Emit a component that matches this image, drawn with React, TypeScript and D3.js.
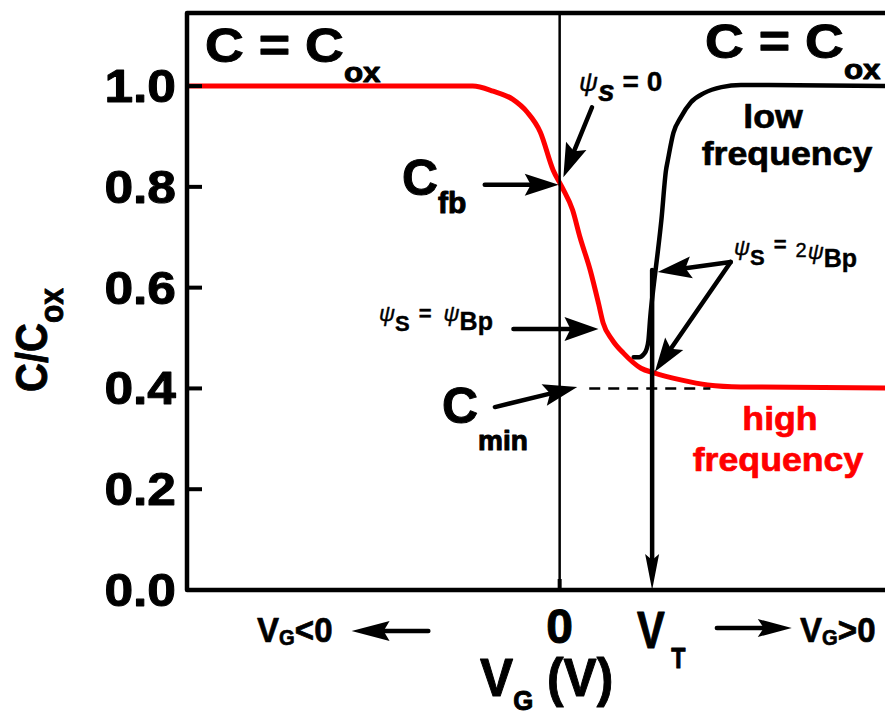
import React from "react";
import * as d3 from "d3";

// high frequency C-V curve (red)
const hfVoltage = [-4.03, -0.94, -0.72, -0.51, -0.35, -0.21, -0.07, 0.03, 0.14, 0.22, 0.33, 0.42, 0.47, 0.57, 0.69, 0.88, 1.02, 1.31, 1.6, 1.96, 3.54];
const hfCap = [1.0, 1.0, 0.99, 0.974, 0.948, 0.909, 0.833, 0.798, 0.754, 0.7, 0.635, 0.569, 0.53, 0.496, 0.47, 0.44, 0.431, 0.417, 0.407, 0.403, 0.401];

// low frequency C-V curve (black)
const lfVoltage = [0.8, 0.86, 0.91, 0.94, 0.96, 0.98, 1.02, 1.06, 1.1, 1.15, 1.17, 1.23, 1.31, 1.42, 1.56, 1.75, 1.96, 2.26, 3.54];
const lfCap = [0.462, 0.462, 0.468, 0.478, 0.495, 0.542, 0.609, 0.669, 0.734, 0.833, 0.853, 0.907, 0.938, 0.968, 0.986, 0.998, 1.002, 1.002, 1.0];

const yTicks = [0, 0.2, 0.4, 0.6, 0.8, 1.0];
const yTickLabels = ["0.0", "0.2", "0.4", "0.6", "0.8", "1.0"];

const VT = 1.0;
const CMIN = 0.4;

const W = 885;
const H = 715;
const FONT = "'Liberation Sans', Arial, sans-serif";

const x = d3.scaleLinear().domain([-4.03, 3.54]).range([187, 887]);
const y = d3.scaleLinear().domain([0, 1.145]).range([590, 13]);

const line = d3
  .line<[number, number]>()
  .x((d) => x(d[0]))
  .y((d) => y(d[1]))
  .curve(d3.curveMonotoneX);

const hfData = hfVoltage.map((v, i) => [v, hfCap[i]] as [number, number]);
const lfData = lfVoltage.map((v, i) => [v, lfCap[i]] as [number, number]);

// filled arrow head with a small notch, Origin style
function Arrow({ x1, y1, x2, y2, len = 34, half = 11, width = 4.5 }: any) {
  const dx = x2 - x1;
  const dy = y2 - y1;
  const d = Math.hypot(dx, dy);
  const ux = dx / d;
  const uy = dy / d;
  const px = -uy;
  const py = ux;
  const bx = x2 - ux * len;
  const by = y2 - uy * len;
  const nx = x2 - ux * (len - 6);
  const ny = y2 - uy * (len - 6);
  const head = `M${x2},${y2}L${bx + px * half},${by + py * half}L${nx},${ny}L${bx - px * half},${by - py * half}Z`;
  return (
    <g>
      <line x1={x1} y1={y1} x2={nx} y2={ny} stroke="#000" strokeWidth={width} strokeLinecap="round" />
      <path d={head} fill="#000" />
    </g>
  );
}

function Label({ x: tx, y: ty, size, sx = 1.1, anchor = "start", fill = "#000", rotate, heavy = 0.7, children }: any) {
  const tf = `translate(${tx},${ty}) scale(${sx},1)` + (rotate ? ` rotate(${rotate})` : "");
  return (
    <text
      transform={tf}
      fontSize={size}
      fontWeight="bold"
      fontFamily={FONT}
      textAnchor={anchor}
      fill={fill}
      stroke={fill}
      strokeWidth={heavy}
      strokeLinejoin="round"
    >
      {children}
    </text>
  );
}

export default function App() {
  const x0 = x.range()[0];
  const xEnd = x.range()[1] + 10;
  const yb = y(0);
  const yt = y.range()[1];

  return (
    <svg width={W} height={H} style={{ position: "absolute", left: 0, top: 0, background: "#fff" }}>
      <defs>
        <clipPath id="plot">
          <rect x={x0} y={yt} width={W - x0} height={yb - yt} />
        </clipPath>
      </defs>

      {/* curves */}
      <g clipPath="url(#plot)">
        <path d={line(lfData) || ""} fill="none" stroke="#000" strokeWidth={4.5} strokeLinejoin="round" strokeLinecap="round" />
        <path d={line(hfData) || ""} fill="none" stroke="#ff0000" strokeWidth={5} strokeLinejoin="round" />
      </g>

      {/* V = 0 line */}
      <line x1={x(0)} x2={x(0)} y1={yt} y2={yb} stroke="#000" strokeWidth={2.5} />
      <line x1={x(0)} x2={x(0)} y1={yb} y2={yb - 11} stroke="#000" strokeWidth={4} />

      {/* C_min dashed level */}
      <line x1={x(0.32)} x2={x(1.63)} y1={y(CMIN)} y2={y(CMIN)} stroke="#000" strokeWidth={2.5} strokeDasharray="11,8" />

      {/* threshold arrow */}
      <Arrow x1={x(VT)} y1={y(0.635)} x2={x(VT)} y2={yb} len={36} half={7} />

      {/* frame */}
      <path d={`M${xEnd},${yt}H${x0}V${yb}H${xEnd}`} fill="none" stroke="#000" strokeWidth={4.5} strokeLinejoin="round" />
      {yTicks.map((t) => (
        <line key={t} x1={x0} x2={x0 + 15} y1={y(t)} y2={y(t)} stroke="#000" strokeWidth={4} />
      ))}
      {yTicks.map((t, i) => (
        <Label key={"l" + t} x={176} y={y(t) + 16} size={46} anchor="end" sx={1.12} heavy={1}>
          {yTickLabels[i]}
        </Label>
      ))}

      {/* y axis title */}
      <Label x={47} y={392} size={40} rotate={-90} sx={1.12} heavy={0.8}>
        C/C<tspan fontSize={30} dy={14}>ox</tspan>
      </Label>

      {/* annotation arrows */}
      <Arrow x1={x(-0.81)} y1={y(0.804)} x2={x(-0.01)} y2={y(0.804)} />
      <Arrow x1={x(0.35)} y1={y(0.958)} x2={x(0.04)} y2={y(0.819)} />
      <Arrow x1={x(-0.5)} y1={y(0.518)} x2={x(0.42)} y2={y(0.518)} half={12} />
      <Arrow x1={x(-0.7)} y1={y(0.363)} x2={x(0.19)} y2={y(0.403)} />
      <Arrow x1={x(1.85)} y1={y(0.651)} x2={x(1.06)} y2={y(0.631)} />
      <Arrow x1={x(1.85)} y1={y(0.651)} x2={x(1.03)} y2={y(0.433)} />

      {/* V_G direction arrows */}
      <Arrow x1={x(-1.42)} y1={631} x2={x(-2.25)} y2={631} len={38} half={10} />
      <Arrow x1={x(1.7)} y1={628} x2={x(2.51)} y2={628} len={34} half={9} />

      {/* texts */}
      <Label x={205} y={62} size={48} sx={1.12} heavy={1}>
        C = C<tspan fontSize={28} dy={20}>ox</tspan>
      </Label>
      <Label x={705} y={58} size={48} sx={1.12} heavy={1}>
        C = C<tspan fontSize={28} dy={21}>ox</tspan>
      </Label>

      <Label x={402} y={195} size={50} sx={1.0} heavy={1}>
        C<tspan fontSize={30} dy={18}>fb</tspan>
      </Label>
      <Label x={442} y={423} size={50} sx={1.0} heavy={1}>
        C<tspan fontSize={28} dy={27}>min</tspan>
      </Label>

      {/* psi_s = 0 */}
      <Label x={579} y={91} size={26} sx={1.0} heavy={0.4}>
        <tspan fontStyle="italic" fontWeight="normal">ψ</tspan>
        <tspan fontStyle="italic" fontSize={30} dy={10}>s</tspan>
        <tspan fontSize={28} dx={8} dy={-10}>= 0</tspan>
      </Label>

      {/* psi_s = psi_Bp */}
      <Label x={379} y={321} size={22} sx={1.0} heavy={0.4}>
        <tspan fontStyle="italic" fontWeight="normal">ψ</tspan>
        <tspan fontSize={22} dy={10}>S</tspan>
        <tspan dx={9} dy={-10}>=</tspan>
        <tspan dx={12} fontStyle="italic" fontWeight="normal">ψ</tspan>
        <tspan fontSize={25} dy={9}>Bp</tspan>
      </Label>

      {/* psi_s = 2 psi_Bp */}
      <Label x={734} y={255} size={22} sx={1.0} heavy={0.4}>
        <tspan fontStyle="italic" fontWeight="normal">ψ</tspan>
        <tspan fontSize={22} dy={10}>S</tspan>
        <tspan dx={9} dy={-13}>=</tspan>
        <tspan dx={9} fontWeight="normal" fontSize={20} dy={5}>2</tspan>
        <tspan dx={1} fontStyle="italic" fontWeight="normal" dy={2}>ψ</tspan>
        <tspan fontSize={25} dy={8}>Bp</tspan>
      </Label>

      <Label x={773} y={128} size={34} anchor="middle" sx={1.05}>low</Label>
      <Label x={787} y={165} size={34} anchor="middle" sx={1.05}>frequency</Label>
      <Label x={780} y={430} size={34} anchor="middle" sx={1.05} fill="#ff0000">high</Label>
      <Label x={778} y={471} size={34} anchor="middle" sx={1.05} fill="#ff0000">frequency</Label>

      {/* x axis labels */}
      <Label x={x(0)} y={643} size={48} anchor="middle" sx={1.0} heavy={1}>0</Label>
      <Label x={637} y={648} size={52} sx={0.8} heavy={1}>
        V<tspan fontSize={29} dx={8} dy={20}>T</tspan>
      </Label>
      <Label x={257} y={642} size={36} sx={0.92}>
        V<tspan fontSize={22} dy={3}>G</tspan>
        <tspan dy={-3}>&lt;0</tspan>
      </Label>
      <Label x={800} y={642} size={36} sx={0.92}>
        V<tspan fontSize={22} dy={3}>G</tspan>
        <tspan dy={-3}>&gt;0</tspan>
      </Label>
      <Label x={480} y={696} size={54} sx={0.92} heavy={1}>
        V<tspan fontSize={28} dy={14}>G</tspan>
        <tspan dy={-14}> (V)</tspan>
      </Label>
    </svg>
  );
}
